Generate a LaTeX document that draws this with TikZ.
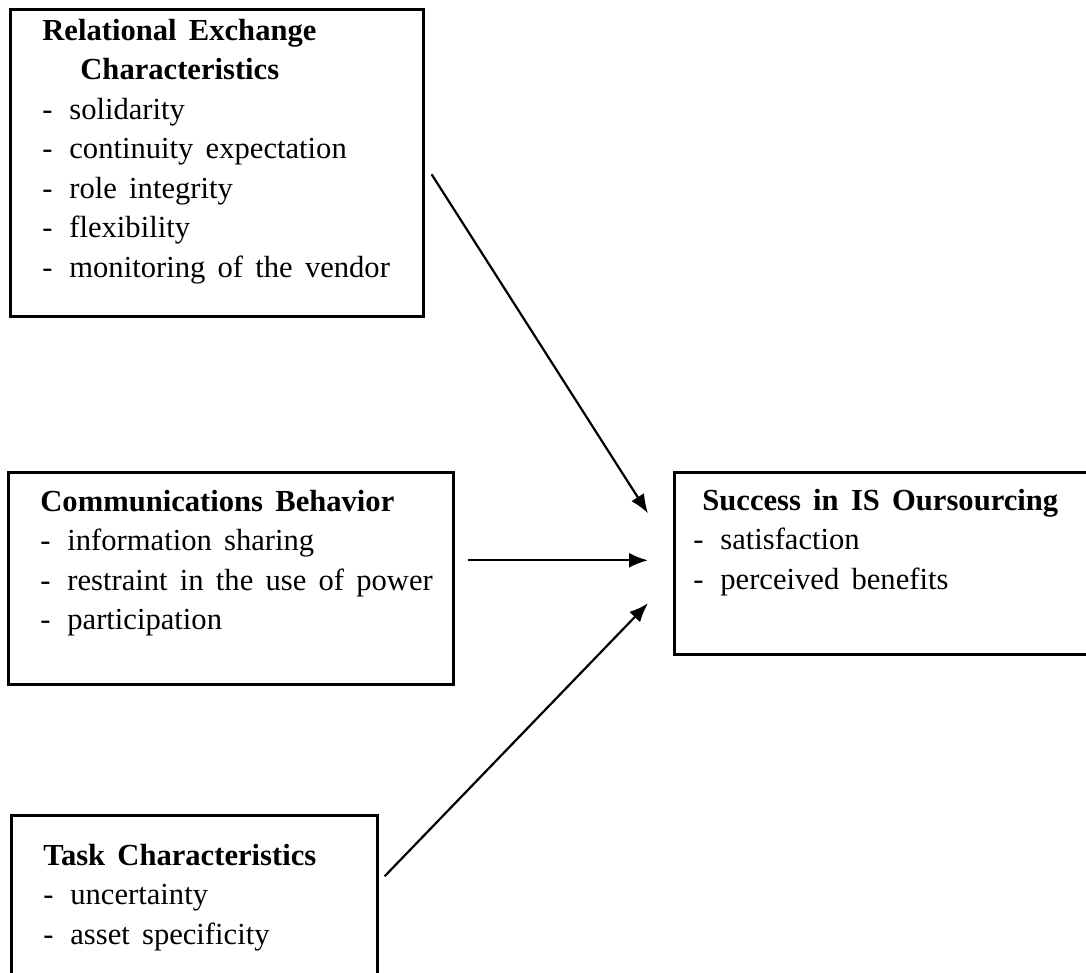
\documentclass[tikz,border=0pt]{standalone}
\usepackage{fontspec}
\setmainfont{Liberation Serif}[WordSpace=1.6]
\usetikzlibrary{arrows.meta}
\usetikzlibrary{positioning}
\newcommand{\entry}[1]{\makebox[13.5pt][l]{-}#1}

\begin{document}
\begin{tikzpicture}[x=0.5pt, y=-0.5pt, >={Latex[length=9.5pt,width=7.5pt]}]
            % Set primary nodes
            \tikzset{
                boxNode/.style={
                        draw,
                        rectangle,
                        line width=1.3pt,
                        anchor=north west,
                        inner sep=0pt
                    }
            }
            \tikzset{
                textNode/.style={
                        anchor=north west,
                        inner sep=0pt,
                        align=left,
                        font=\fontsize{15.3}{19.75}\selectfont
                    }
            }
            \tikzset{
                arrow/.style={
                        line width=1.1pt,
                        ->
                    }
            }
            \useasboundingbox (0,0) rectangle (1086,973);
            \clip (0,0) rectangle (1086,973);
            % Placing nodes
            \node[boxNode, minimum width=206.5pt, minimum height=153.5pt](relational) at (9,8){};
            \node[boxNode, minimum width=222.5pt, minimum height=106pt](communication) at (7,471){};
            \node[boxNode, minimum width=183pt, minimum height=100pt](task) at (10,814){};
            \node[boxNode, minimum width=213.5pt, minimum height=91pt](success) at (673,471){};
            \node[textNode, below right = 2.2pt and 16.5pt of relational.north west](relationalText){\strut\textbf{Relational Exchange}\\
                \hspace*{19pt}\textbf{Characteristics}\\
                \entry{solidarity}\\
                \entry{continuity expectation}\\
                \entry{role integrity}\\
                \entry{flexibility}\\
                \entry{monitoring of the vendor}};
            \node[textNode, below right = 6.2pt and 16.5pt of communication.north west](communicationText){\strut\textbf{Communications Behavior}\\
                \entry{information sharing}\\
                \entry{restraint in the use of power}\\
                \entry{participation}};
            \node[textNode, below right = 11.7pt and 16.5pt of task.north west](taskText){\strut\textbf{Task Characteristics}\\
                \entry{uncertainty}\\
                \entry{asset specificity}};
            \node[textNode, below right = 5.7pt and 10pt of success.north west](successText){\strut\hspace*{4.5pt}\textbf{Success in IS Oursourcing}\\
                \entry{satisfaction}\\
                \entry{perceived benefits}};
            % Draw arrows
            \draw[arrow]([shift={(7,11.5)}]relational.east) -- ([shift={(-25,-50)}]success.west);
            \draw[arrow]([shift={(13,-18)}]communication.east) -- ([shift={(-25,-3)}]success.west);
            \draw[arrow]([shift={(6,-39)}]task.east) -- ([shift={(-25,40)}]success.west);
        \end{tikzpicture}
\end{document}
